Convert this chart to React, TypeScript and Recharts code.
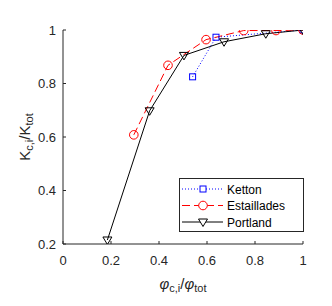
import React from 'react';
import { ComposedChart, Line, XAxis, YAxis, Legend, Label } from 'recharts';

const kettonPhi = [0.54, 0.6375, 1.0];
const kettonK = [0.825, 0.973, 1.0];
const estailladesPhi = [0.295, 0.4375, 0.596, 0.753, 0.8875, 1.0];
const estailladesK = [0.608, 0.868, 0.964, 0.998, 0.998, 1.0];
const portlandPhi = [0.185, 0.361, 0.504, 0.671, 0.845, 1.0];
const portlandK = [0.215, 0.698, 0.905, 0.956, 0.986, 1.0];

const xTicks = [0, 0.2, 0.4, 0.6, 0.8, 1];
const xTickLabels = ['0', '0.2', '0.4', '0.6', '0.8', '1'];
const yTicks = [0.2, 0.4, 0.6, 0.8, 1];
const yTickLabels = ['0.2', '0.4', '0.6', '0.8', '1'];

const seriesNames = ['Ketton', 'Estaillades', 'Portland'];

const toPoints = (xs: number[], ys: number[]) => xs.map((x, i) => ({ x, y: ys[i] }));
const kettonData = toPoints(kettonPhi, kettonK);
const estailladesData = toPoints(estailladesPhi, estailladesK);
const portlandData = toPoints(portlandPhi, portlandK);

const FONT = '"Liberation Sans", Arial, Helvetica, sans-serif';
const AX = '#262626';

const Square = (props: any) => {
  const { cx, cy, key } = props;
  if (cx == null || cy == null) return <g key={key} />;
  return <rect key={key} x={cx - 3} y={cy - 3} width={6} height={6} fill="none" stroke="#0000ff" strokeWidth={1} />;
};
const Circ = (props: any) => {
  const { cx, cy, key } = props;
  if (cx == null || cy == null) return <g key={key} />;
  return <circle key={key} cx={cx} cy={cy} r={4.3} fill="none" stroke="#ff0000" strokeWidth={1} />;
};
const Tri = (props: any) => {
  const { cx, cy, key } = props;
  if (cx == null || cy == null) return <g key={key} />;
  return (
    <polygon
      key={key}
      points={`${cx - 4.5},${cy - 3} ${cx + 4.5},${cy - 3} ${cx},${cy + 4.5}`}
      fill="none"
      stroke="#000000"
      strokeWidth={1}
    />
  );
};

const XTick = (props: any) => {
  const { x, y, payload, index } = props;
  return (
    <g>
      <line x1={x} y1={y} x2={x} y2={y - 3} stroke={AX} strokeWidth={1} />
      <text x={x} y={y + 21} textAnchor="middle" fontSize={13} fontFamily={FONT} fill={AX}>
        {xTickLabels[index] ?? payload.value}
      </text>
    </g>
  );
};
const YTick = (props: any) => {
  const { x, y, payload, index } = props;
  return (
    <g>
      <line x1={x} y1={y} x2={x + 3} y2={y} stroke={AX} strokeWidth={1} />
      <text x={x - 7} y={y + 4.5} textAnchor="end" fontSize={13} fontFamily={FONT} fill={AX}>
        {yTickLabels[index] ?? payload.value}
      </text>
    </g>
  );
};

const XLabel = (props: any) => {
  const vb = props.viewBox || {};
  const cx = (vb.x ?? 63) + (vb.width ?? 240) / 2;
  return (
    <text x={cx} y={289} textAnchor="middle" fontSize={15} fontFamily={FONT} fill={AX}>
      <tspan fontStyle="italic">φ</tspan>
      <tspan fontSize={11} dy={3}>c,i</tspan>
      <tspan dy={-3}>/</tspan>
      <tspan fontStyle="italic">φ</tspan>
      <tspan fontSize={11} dy={3}>tot</tspan>
    </text>
  );
};
const YLabel = (props: any) => {
  const vb = props.viewBox || {};
  const cy = (vb.y ?? 30) + (vb.height ?? 214) / 2;
  const cx = 30;
  return (
    <text
      x={cx}
      y={cy}
      textAnchor="middle"
      fontSize={15}
      fontFamily={FONT}
      fill={AX}
      transform={`rotate(-90 ${cx} ${cy})`}
    >
      <tspan>K</tspan>
      <tspan fontSize={11} dy={3}>c,i</tspan>
      <tspan dy={-3}>/K</tspan>
      <tspan fontSize={11} dy={3}>tot</tspan>
    </text>
  );
};

const LegendBox = () => {
  const rows = [
    { name: seriesNames[0], color: '#0000ff', dash: '1 2', marker: 'square' },
    { name: seriesNames[1], color: '#ff0000', dash: '8 4', marker: 'circle' },
    { name: seriesNames[2], color: '#000000', dash: undefined, marker: 'tri' },
  ];
  return (
    <svg width={125} height={54} style={{ display: 'block' }}>
      <rect x={0.5} y={0.5} width={124} height={53} fill="#ffffff" stroke={AX} strokeWidth={1} />
      {rows.map((r, i) => {
        const y = 11 + i * 16.5;
        const mx = 24;
        return (
          <g key={r.name}>
            <line x1={3} y1={y} x2={44} y2={y} stroke={r.color} strokeWidth={1} strokeDasharray={r.dash} />
            {r.marker === 'square' && (
              <rect x={mx - 3} y={y - 3} width={6} height={6} fill="#ffffff" stroke={r.color} />
            )}
            {r.marker === 'circle' && <circle cx={mx} cy={y} r={4.3} fill="#ffffff" stroke={r.color} />}
            {r.marker === 'tri' && (
              <polygon
                points={`${mx - 4.5},${y - 3} ${mx + 4.5},${y - 3} ${mx},${y + 4.5}`}
                fill="#ffffff"
                stroke={r.color}
              />
            )}
            <text x={48} y={y + 4.5} fontSize={12} fontFamily={FONT} fill="#000000">
              {r.name}
            </text>
          </g>
        );
      })}
    </svg>
  );
};

export default function App() {
  return (
    <div style={{ position: 'absolute', left: 0, top: 0, width: 332, height: 306, background: '#ffffff' }}>
      <ComposedChart width={332} height={306} margin={{ top: 30, right: 29, bottom: 0, left: 0 }}>
        <XAxis
          type="number"
          dataKey="x"
          domain={[0, 1]}
          ticks={xTicks}
          allowDataOverflow
          height={62}
          stroke={AX}
          tickSize={0}
          tickMargin={0}
          tick={<XTick />}
          interval={0}
        >
          <Label content={<XLabel />} />
        </XAxis>
        <YAxis
          type="number"
          dataKey="y"
          domain={[0.2, 1]}
          ticks={yTicks}
          allowDataOverflow
          width={63}
          stroke={AX}
          tickSize={0}
          tickMargin={0}
          tick={<YTick />}
          interval={0}
        >
          <Label content={<YLabel />} />
        </YAxis>
        <Line
          data={kettonData}
          dataKey="y"
          name={seriesNames[0]}
          stroke="#0000ff"
          strokeWidth={1}
          strokeDasharray="1 2"
          dot={Square}
          activeDot={false}
          isAnimationActive={false}
        />
        <Line
          data={estailladesData}
          dataKey="y"
          name={seriesNames[1]}
          stroke="#ff0000"
          strokeWidth={1}
          strokeDasharray="8 4"
          dot={Circ}
          activeDot={false}
          isAnimationActive={false}
        />
        <Line
          data={portlandData}
          dataKey="y"
          name={seriesNames[2]}
          stroke="#000000"
          strokeWidth={1}
          dot={Tri}
          activeDot={false}
          isAnimationActive={false}
        />
        <Legend
          layout="horizontal"
          align="center"
          verticalAlign="middle"
          content={<LegendBox />}
          wrapperStyle={{ position: 'absolute', left: 179, top: 178, width: 125, height: 54 }}
        />
      </ComposedChart>
    </div>
  );
}
